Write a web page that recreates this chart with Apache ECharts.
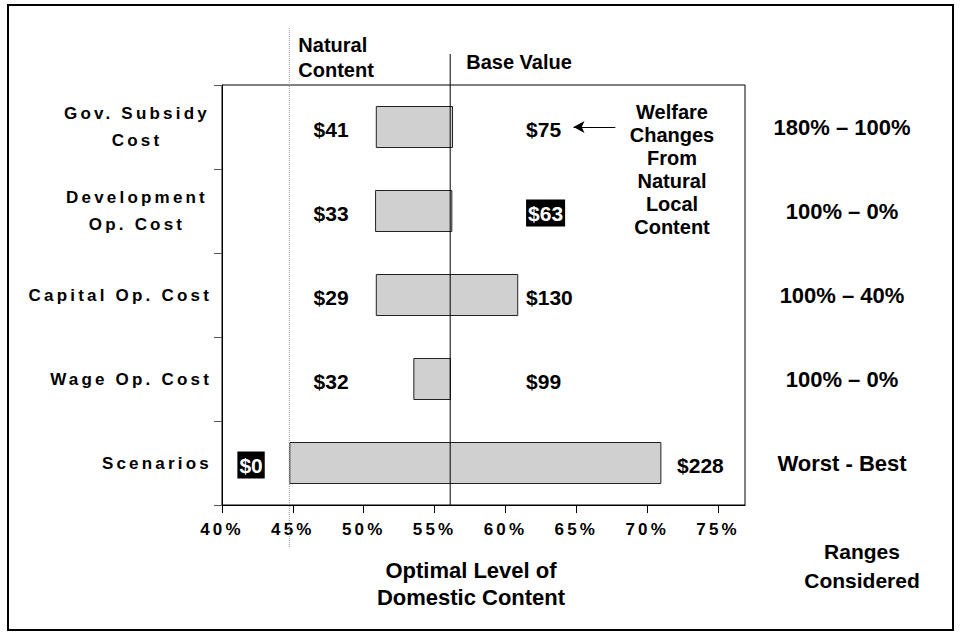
<!DOCTYPE html>
<html>
<head>
<meta charset="utf-8">
<script src="https://cdn.jsdelivr.net/npm/echarts@6/dist/echarts.min.js"></script>
<style>
html, body { margin: 0; padding: 0; background: #fff; }
#chart { width: 961px; height: 636px; }
/* axis texts of the original are set with wide character spacing */
#chart text[style*="17px"] { letter-spacing: 3.2px; }
</style>
</head>
<body>
<div id="chart"></div>
<script>
var categories = ['Gov. Subsidy\nCost', 'Development\nOp. Cost', 'Capital Op. Cost', 'Wage Op. Cost', 'Scenarios'];
var ranges = ['180% – 100%', '100% – 0%', '100% – 40%', '100% – 0%', 'Worst - Best'];
var lowLevel = [50.85, 50.8, 50.85, 53.5, 44.75];
var highLevel = [56.3, 56.25, 60.9, 56.15, 71.0];
var lowWelfare = ['$41', '$33', '$29', '$32', '$0'];
var highWelfare = ['$75', '$63', '$130', '$99', '$228'];
var xTicks = [40, 45, 50, 55, 60, 65, 70, 75];
var naturalContent = 44.75;
var baseValue = 56.1;

var FONT = '"Liberation Sans", Arial, sans-serif';
var gridBox = { left: 222, top: 85, right: 216, bottom: 131 };
// label columns, in axis units
var leftColumn = 47.7, rightColumn = 61.45, leftGap = 2.7, rightGap = 1.1;
var boxedLabels = ['$63', '$0'];

var chart = echarts.init(document.getElementById('chart'), null, { renderer: 'svg' });

function labelItem(text, x, i) {
    var item = { value: [x, i] };
    if (boxedLabels.indexOf(text) >= 0) {
        item.label = { backgroundColor: '#000', color: '#fff', padding: [3, 2] };
    }
    return item;
}

var lowLabelData = lowLevel.map(function (v, i) {
    return labelItem(lowWelfare[i], Math.min(leftColumn, v - leftGap), i);
});
var highLabelData = highLevel.map(function (v, i) {
    return labelItem(highWelfare[i], v < rightColumn ? rightColumn : v + rightGap, i);
});

var valueLabel = {
    show: true,
    color: '#000',
    opacity: 1,
    fontFamily: FONT,
    fontWeight: 'bold',
    fontSize: 21,
    offset: [0, 2]
};

var option = {
    animation: false,
    grid: {
        left: gridBox.left, top: gridBox.top, right: gridBox.right, bottom: gridBox.bottom,
        show: true, borderColor: '#000', borderWidth: 1,
        outerBoundsMode: 'none'
    },
    xAxis: {
        type: 'value',
        min: 40,
        max: 76.9,
        interval: 5,
        axisLine: { show: true, lineStyle: { color: '#000', width: 1 } },
        axisTick: { show: true, length: 8, customValues: xTicks, lineStyle: { color: '#000' } },
        splitLine: { show: false },
        axisLabel: {
            customValues: xTicks,
            margin: 16,
            color: '#000',
            fontFamily: FONT,
            fontWeight: 'bold',
            fontSize: 17,
            formatter: function (v) { return v + '%'; }
        }
    },
    yAxis: [{
        type: 'category',
        data: categories,
        inverse: true,
        axisLine: { show: true, lineStyle: { color: '#000' } },
        axisTick: { show: true, length: 8, lineStyle: { color: '#555' } },
        splitLine: { show: false },
        axisLabel: {
            interval: 0,
            margin: 10,
            align: 'right',
            width: 150,
            overflow: 'none',
            color: '#000',
            fontFamily: FONT,
            fontWeight: 'bold',
            fontSize: 17,
            formatter: function (v) {
                var lines = v.split('\n');
                if (lines.length > 1) {
                    return lines.map(function (l) { return '{c|' + l + '}'; }).join('\n');
                }
                return '{r|' + v + '}';
            },
            rich: {
                c: { align: 'center', color: '#000', fontFamily: FONT, fontWeight: 'bold', fontSize: 17, lineHeight: 27 },
                r: { align: 'right', color: '#000', fontFamily: FONT, fontWeight: 'bold', fontSize: 17, lineHeight: 27 }
            }
        }
    }, {
        type: 'category',
        data: ranges,
        inverse: true,
        position: 'right',
        axisLine: { show: false },
        axisTick: { show: false },
        splitLine: { show: false },
        axisLabel: {
            interval: 0,
            margin: 97,
            align: 'center',
            color: '#000',
            fontFamily: FONT,
            fontWeight: 'bold',
            fontSize: 22
        }
    }],
    series: [{
        name: 'offset',
        type: 'bar',
        stack: 'range',
        barWidth: '50%',
        silent: true,
        itemStyle: { color: 'rgba(0,0,0,0)' },
        data: lowLevel
    }, {
        name: 'Optimal Level of Domestic Content',
        type: 'bar',
        stack: 'range',
        barWidth: '50%',
        itemStyle: { color: '#d0d0d0', borderColor: '#222', borderWidth: 1 },
        data: highLevel.map(function (v, i) { return +(v - lowLevel[i]).toFixed(3); })
    }, {
        name: 'low welfare',
        type: 'scatter',
        symbolSize: 0.1,
        itemStyle: { color: 'rgba(0,0,0,0)', opacity: 1 },
        silent: true,
        label: Object.assign({}, valueLabel, {
            position: 'inside', align: 'center', verticalAlign: 'middle',
            formatter: function (p) { return lowWelfare[p.dataIndex]; }
        }),
        data: lowLabelData
    }, {
        name: 'high welfare',
        type: 'scatter',
        symbolSize: 0.1,
        itemStyle: { color: 'rgba(0,0,0,0)', opacity: 1 },
        silent: true,
        label: Object.assign({}, valueLabel, {
            position: 'right', distance: 0,
            formatter: function (p) { return highWelfare[p.dataIndex]; }
        }),
        data: highLabelData,
        markLine: {
            silent: true,
            symbol: ['none', 'arrow'],
            symbolSize: [9, 11],
            label: { show: false },
            lineStyle: { color: '#000', width: 1, type: 'solid', opacity: 1 },
            data: [[{ coord: [67.75, 0] }, { coord: [64.8, 0] }]]
        }
    }]
};

chart.setOption(option);

var baseX = chart.convertToPixel({ xAxisIndex: 0 }, baseValue);
var naturalX = chart.convertToPixel({ xAxisIndex: 0 }, naturalContent);
var plotBottom = chart.getHeight() - gridBox.bottom;

function note(text, x, y, size, lh, align) {
    return {
        type: 'text', x: x, y: y, z: 100,
        style: {
            text: text, fill: '#000',
            font: 'bold ' + size + 'px ' + FONT,
            lineHeight: lh,
            align: align, textAlign: align,
            verticalAlign: 'top', textVerticalAlign: 'top'
        }
    };
}

chart.setOption({
    graphic: [
        {
            type: 'line', z: 100,
            shape: { x1: naturalX, y1: 28, x2: naturalX, y2: 548 },
            style: { stroke: '#999', lineWidth: 1, lineDash: [1, 1] }
        },
        {
            type: 'line', z: 100,
            shape: { x1: baseX, y1: 54, x2: baseX, y2: plotBottom },
            style: { stroke: '#000', lineWidth: 1 }
        },
        note('Natural\nContent', naturalX + 9, 32, 20, 25, 'left'),
        note('Base Value', baseX + 16, 51, 20, 22, 'left'),
        note('Welfare\nChanges\nFrom\nNatural\nLocal\nContent', 672, 100, 20, 23, 'center'),
        note('Optimal Level of\nDomestic Content', 471, 557, 22, 27, 'center'),
        note('Ranges\nConsidered', 862, 537, 21, 29, 'center'),
        {
            type: 'rect', z: 100,
            shape: { x: 8, y: 5, width: 945, height: 625 },
            style: { fill: 'none', stroke: '#000', lineWidth: 2 }
        }
    ]
});
</script>
</body>
</html>
